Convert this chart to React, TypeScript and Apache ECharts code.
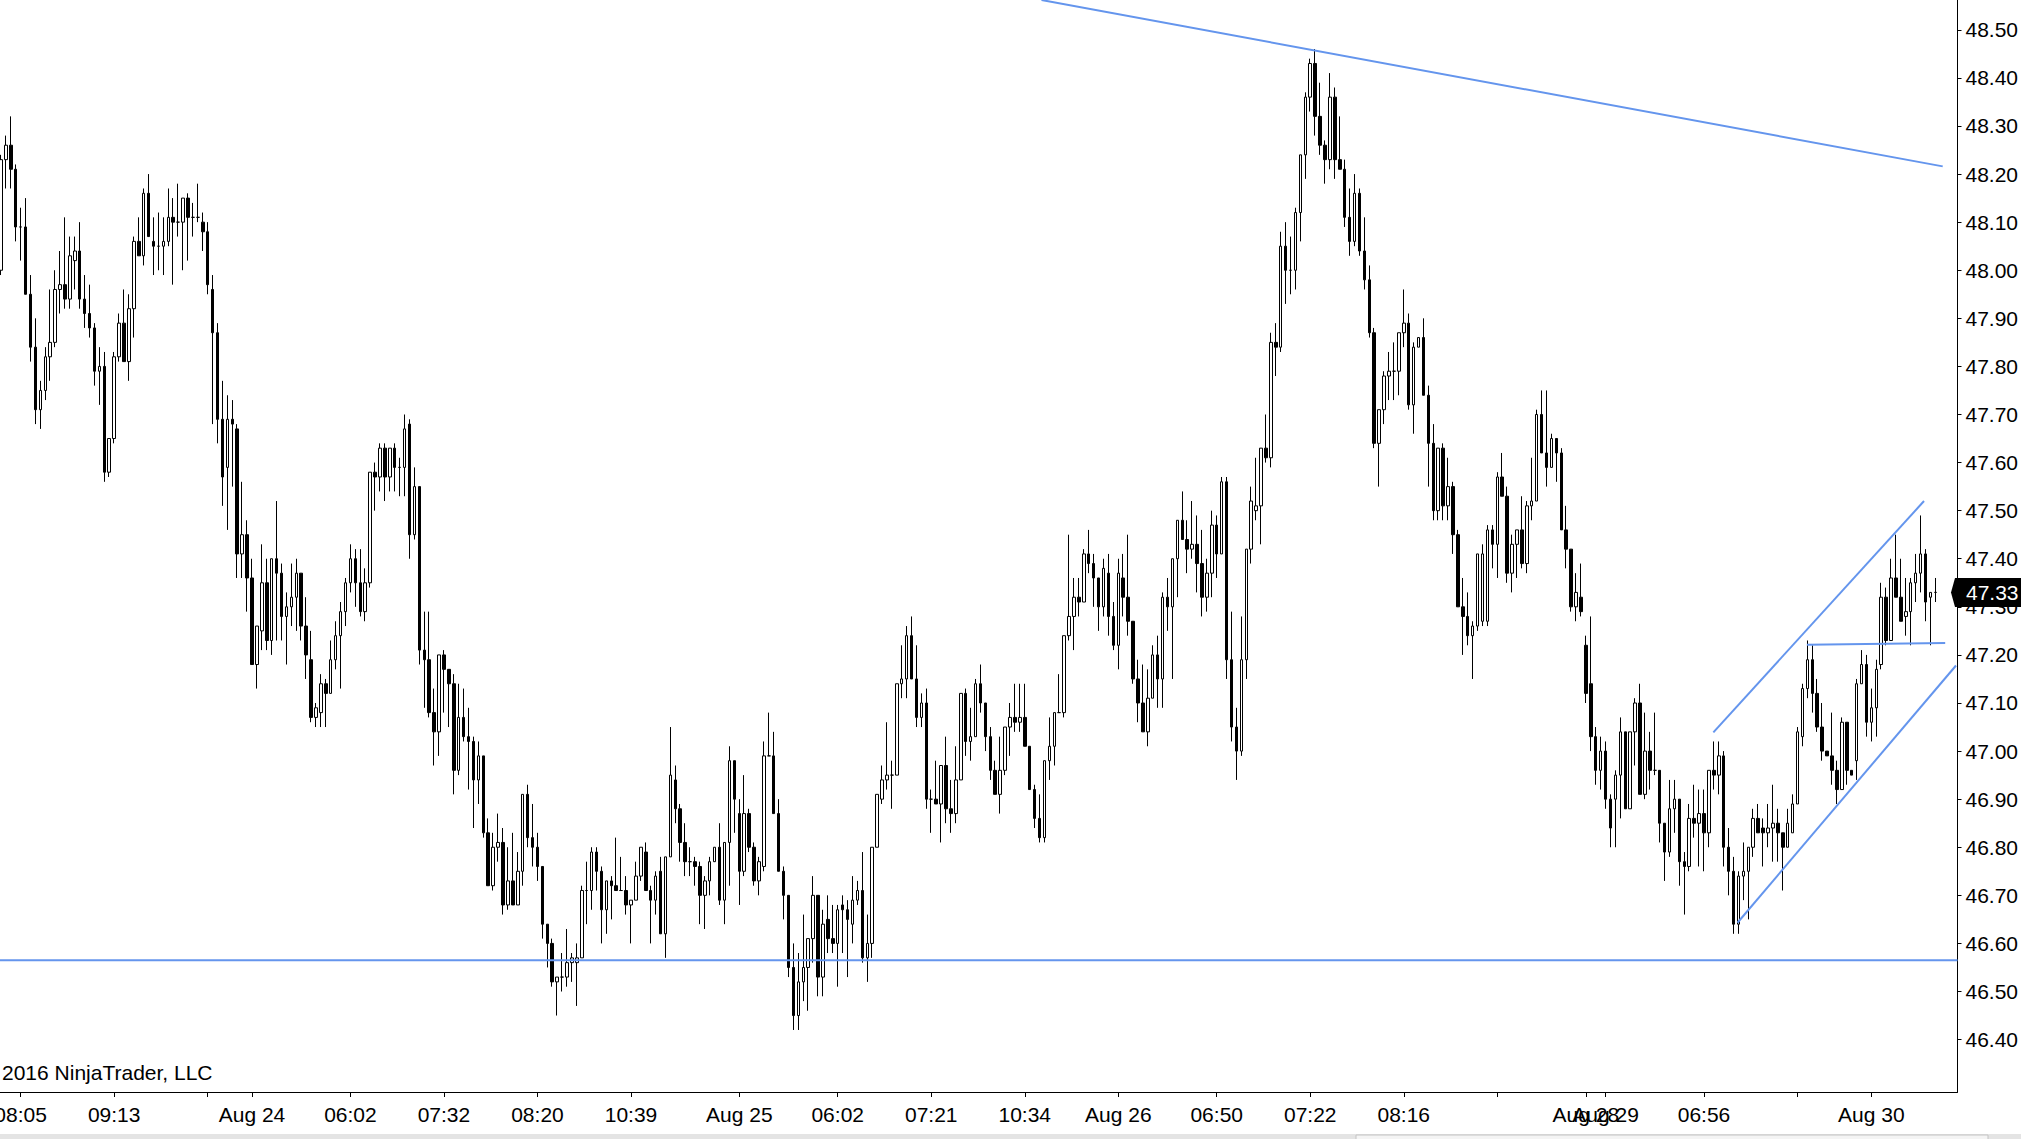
import React, { useEffect, useRef } from "react";
import * as echarts from "echarts";

// [open, high, low, close] per bar
const barsAug23 = [
  [48.00, 48.24, 47.99, 48.23], [48.23, 48.28, 48.17, 48.26], [48.26, 48.32, 48.17, 48.21], [48.21, 48.22, 48.06, 48.09],
  [48.09, 48.13, 48.02, 48.09], [48.09, 48.15, 47.95, 47.95], [47.95, 47.99, 47.81, 47.84], [47.84, 47.90, 47.68, 47.71],
  [47.71, 47.77, 47.67, 47.75], [47.75, 47.84, 47.73, 47.82], [47.82, 47.96, 47.77, 47.85], [47.85, 48.00, 47.84, 47.96],
  [47.96, 48.04, 47.91, 47.97], [47.97, 48.11, 47.92, 47.94], [47.94, 48.07, 47.92, 48.03], [48.02, 48.07, 47.96, 48.04],
  [48.04, 48.10, 47.92, 47.94], [47.94, 47.99, 47.88, 47.91], [47.91, 47.97, 47.86, 47.88], [47.88, 47.89, 47.76, 47.79],
  [47.79, 47.84, 47.72, 47.80], [47.80, 47.83, 47.56, 47.58], [47.58, 47.65, 47.57, 47.65], [47.65, 47.83, 47.64, 47.82],
  [47.82, 47.91, 47.81, 47.89], [47.89, 47.96, 47.81, 47.81], [47.81, 47.95, 47.77, 47.92], [47.92, 48.07, 47.86, 48.06],
  [48.06, 48.11, 48.03, 48.03], [48.03, 48.17, 48.01, 48.16], [48.16, 48.20, 48.07, 48.07], [48.06, 48.11, 47.99, 48.05],
  [48.05, 48.12, 48.00, 48.05], [48.05, 48.11, 47.99, 48.06], [48.06, 48.17, 48.05, 48.11], [48.11, 48.15, 47.97, 48.10],
  [48.10, 48.18, 48.07, 48.10], [48.10, 48.15, 48.00, 48.15], [48.15, 48.16, 48.02, 48.11], [48.11, 48.14, 48.07, 48.11],
  [48.11, 48.18, 48.10, 48.11], [48.10, 48.12, 48.04, 48.08], [48.08, 48.10, 47.95, 47.97], [47.96, 47.99, 47.68, 47.87],
  [47.87, 47.89, 47.64, 47.69], [47.69, 47.77, 47.51, 47.57], [47.59, 47.74, 47.46, 47.69], [47.69, 47.73, 47.55, 47.68],
  [47.67, 47.68, 47.36, 47.41], [47.41, 47.56, 47.36, 47.45], [47.45, 47.48, 47.29, 47.36], [47.36, 47.40, 47.18, 47.18],
  [47.18, 47.26, 47.13, 47.26], [47.25, 47.43, 47.21, 47.35], [47.35, 47.40, 47.21, 47.23], [47.23, 47.40, 47.20, 47.40],
  [47.40, 47.52, 47.23, 47.37], [47.37, 47.39, 47.23, 47.28], [47.28, 47.33, 47.18, 47.30], [47.30, 47.39, 47.26, 47.32],
  [47.32, 47.40, 47.25, 47.37], [47.37, 47.37, 47.23, 47.26], [47.26, 47.32, 47.15, 47.20], [47.19, 47.25, 47.06, 47.07],
  [47.07, 47.10, 47.05, 47.09], [47.08, 47.16, 47.05, 47.14], [47.14, 47.15, 47.05, 47.12], [47.12, 47.23, 47.12, 47.19],
  [47.19, 47.27, 47.17, 47.24],
];

const barsAug24 = [
  [47.24, 47.31, 47.13, 47.29], [47.29, 47.36, 47.26, 47.35], [47.35, 47.43, 47.33, 47.40], [47.40, 47.42, 47.30, 47.35],
  [47.35, 47.42, 47.28, 47.29], [47.29, 47.38, 47.27, 47.35], [47.35, 47.58, 47.34, 47.58], [47.58, 47.60, 47.50, 47.57],
  [47.57, 47.64, 47.54, 47.63], [47.63, 47.64, 47.52, 47.57], [47.57, 47.63, 47.54, 47.63], [47.63, 47.64, 47.54, 47.59],
  [47.59, 47.61, 47.53, 47.59], [47.59, 47.70, 47.53, 47.67], [47.68, 47.69, 47.40, 47.45], [47.45, 47.59, 47.44, 47.55],
  [47.55, 47.55, 47.18, 47.21], [47.21, 47.29, 47.09, 47.19], [47.19, 47.29, 47.07, 47.08], [47.08, 47.13, 46.97, 47.04],
  [47.04, 47.20, 46.99, 47.20], [47.20, 47.21, 47.08, 47.17], [47.17, 47.17, 47.05, 47.14], [47.14, 47.16, 46.91, 46.96],
  [46.96, 47.14, 46.95, 47.07], [47.07, 47.13, 47.02, 47.03], [47.03, 47.09, 46.92, 47.02], [47.02, 47.03, 46.84, 46.94],
  [46.94, 47.02, 46.89, 46.99], [46.99, 46.99, 46.82, 46.83], [46.83, 46.86, 46.72, 46.72], [46.72, 46.83, 46.71, 46.80],
  [46.80, 46.87, 46.77, 46.81], [46.81, 46.84, 46.66, 46.68], [46.68, 46.80, 46.67, 46.73], [46.73, 46.83, 46.68, 46.68],
  [46.68, 46.79, 46.68, 46.75], [46.75, 46.91, 46.72, 46.91], [46.91, 46.93, 46.80, 46.82], [46.82, 46.89, 46.76, 46.80],
  [46.80, 46.83, 46.73, 46.76], [46.76, 46.76, 46.61, 46.64], [46.64, 46.64, 46.55, 46.60], [46.60, 46.61, 46.51, 46.52],
  [46.52, 46.53, 46.45, 46.53], [46.53, 46.58, 46.50, 46.53], [46.53, 46.63, 46.51, 46.56], [46.56, 46.58, 46.52, 46.57],
  [46.56, 46.60, 46.47, 46.57], [46.57, 46.72, 46.57, 46.71], [46.71, 46.77, 46.64, 46.71], [46.71, 46.80, 46.67, 46.79],
  [46.79, 46.80, 46.71, 46.75], [46.75, 46.76, 46.60, 46.67], [46.67, 46.73, 46.62, 46.73], [46.73, 46.74, 46.65, 46.72],
  [46.72, 46.82, 46.71, 46.71], [46.71, 46.78, 46.71, 46.71], [46.71, 46.74, 46.66, 46.68], [46.68, 46.69, 46.60, 46.69],
  [46.69, 46.77, 46.69, 46.74], [46.74, 46.80, 46.73, 46.80], [46.79, 46.81, 46.71, 46.71], [46.71, 46.72, 46.60, 46.69],
  [46.69, 46.75, 46.66, 46.74],
];

const barsAug25 = [
  [46.75, 46.78, 46.62, 46.62], [46.62, 46.78, 46.57, 46.78], [46.78, 47.05, 46.78, 46.95], [46.94, 46.97, 46.85, 46.88],
  [46.88, 46.89, 46.77, 46.81], [46.81, 46.85, 46.74, 46.77], [46.77, 46.80, 46.74, 46.77], [46.77, 46.78, 46.72, 46.76],
  [46.76, 46.77, 46.64, 46.70], [46.70, 46.74, 46.63, 46.73], [46.73, 46.78, 46.70, 46.77], [46.77, 46.80, 46.77, 46.80],
  [46.80, 46.85, 46.68, 46.69], [46.69, 46.81, 46.64, 46.81], [46.81, 47.01, 46.72, 46.98], [46.98, 46.98, 46.83, 46.90],
  [46.87, 46.90, 46.68, 46.75], [46.75, 46.95, 46.74, 46.87], [46.87, 46.88, 46.79, 46.80], [46.80, 46.81, 46.72, 46.73],
  [46.73, 46.78, 46.70, 46.77], [46.76, 47.02, 46.75, 46.99], [46.99, 47.08, 46.99, 46.99], [46.99, 47.04, 46.87, 46.87],
  [46.87, 46.90, 46.75, 46.75], [46.75, 46.76, 46.65, 46.70], [46.70, 46.70, 46.53, 46.55], [46.55, 46.60, 46.42, 46.45],
  [46.45, 46.58, 46.42, 46.52], [46.52, 46.66, 46.48, 46.55], [46.55, 46.61, 46.46, 46.61], [46.61, 46.74, 46.56, 46.70],
  [46.70, 46.70, 46.49, 46.53], [46.53, 46.67, 46.49, 46.64], [46.65, 46.70, 46.58, 46.61], [46.61, 46.68, 46.58, 46.60],
  [46.60, 46.68, 46.51, 46.67], [46.68, 46.70, 46.58, 46.67], [46.67, 46.69, 46.53, 46.65], [46.64, 46.74, 46.60, 46.69],
  [46.69, 46.73, 46.68, 46.71], [46.71, 46.79, 46.56, 46.57], [46.57, 46.66, 46.52, 46.60], [46.60, 46.80, 46.57, 46.80],
  [46.80, 46.91, 46.80, 46.91], [46.90, 46.97, 46.89, 46.94], [46.94, 47.06, 46.92, 46.95], [46.95, 46.98, 46.88, 46.95],
  [46.95, 47.14, 46.95, 47.14], [47.14, 47.22, 47.11, 47.15], [47.15, 47.26, 47.11, 47.24], [47.24, 47.28, 47.15, 47.15],
  [47.15, 47.22, 47.05, 47.07], [47.07, 47.12, 47.05, 47.10], [47.10, 47.13, 46.88, 46.90], [46.90, 46.92, 46.83, 46.90],
  [46.90, 46.98, 46.89, 46.89], [46.89, 46.97, 46.81, 46.97], [46.97, 47.03, 46.85, 46.88], [46.88, 46.94, 46.83, 46.87],
  [46.87, 47.01, 46.85, 46.94], [46.94, 47.12, 46.94, 47.12], [47.12, 47.13, 46.99, 47.02], [47.02, 47.09, 46.98, 47.03],
  [47.03, 47.15, 47.03, 47.14],
];

const barsAug26 = [
  [47.14, 47.18, 47.08, 47.10], [47.10, 47.10, 47.00, 47.03], [47.03, 47.05, 46.94, 46.96], [46.96, 46.98, 46.91, 46.91],
  [46.91, 47.03, 46.87, 46.96], [46.96, 47.05, 46.95, 47.05], [47.05, 47.10, 46.99, 47.07], [47.07, 47.14, 47.04, 47.06],
  [47.06, 47.14, 47.04, 47.07], [47.07, 47.14, 47.01, 47.01], [47.01, 47.01, 46.92, 46.92], [46.92, 46.93, 46.84, 46.86],
  [46.86, 46.91, 46.81, 46.82], [46.82, 46.98, 46.81, 46.98], [46.98, 47.07, 46.94, 47.01], [47.01, 47.08, 46.97, 47.08],
  [47.08, 47.16, 47.08, 47.08], [47.08, 47.24, 47.07, 47.24], [47.24, 47.45, 47.23, 47.28], [47.28, 47.36, 47.21, 47.32],
  [47.32, 47.36, 47.28, 47.31], [47.31, 47.42, 47.31, 47.41], [47.41, 47.46, 47.37, 47.39], [47.39, 47.41, 47.30, 47.36],
  [47.36, 47.36, 47.25, 47.30], [47.30, 47.40, 47.28, 47.38], [47.37, 47.41, 47.24, 47.28], [47.28, 47.31, 47.21, 47.22],
  [47.22, 47.40, 47.17, 47.37], [47.36, 47.41, 47.28, 47.32], [47.32, 47.45, 47.24, 47.27], [47.27, 47.27, 47.14, 47.15],
  [47.15, 47.19, 47.06, 47.10], [47.10, 47.18, 47.04, 47.04], [47.04, 47.17, 47.01, 47.11], [47.11, 47.22, 47.11, 47.20],
  [47.20, 47.24, 47.09, 47.15], [47.15, 47.33, 47.09, 47.32], [47.32, 47.36, 47.25, 47.30], [47.30, 47.40, 47.15, 47.40],
  [47.40, 47.48, 47.32, 47.48], [47.48, 47.54, 47.44, 47.44], [47.44, 47.48, 47.37, 47.42], [47.42, 47.52, 47.40, 47.43],
  [47.43, 47.49, 47.33, 47.39], [47.39, 47.46, 47.28, 47.32], [47.32, 47.40, 47.29, 47.37], [47.37, 47.50, 47.32, 47.47],
  [47.47, 47.49, 47.36, 47.41], [47.41, 47.57, 47.41, 47.56], [47.56, 47.57, 47.15, 47.19], [47.19, 47.29, 47.02, 47.05],
  [47.05, 47.09, 46.94, 47.00], [47.00, 47.28, 46.99, 47.19], [47.19, 47.42, 47.15, 47.42], [47.42, 47.55, 47.39, 47.52],
  [47.50, 47.61, 47.48, 47.51], [47.51, 47.63, 47.43, 47.63], [47.63, 47.70, 47.60, 47.61], [47.61, 47.87, 47.59, 47.85],
  [47.85, 47.89, 47.78, 47.84], [47.84, 48.08, 47.83, 48.05], [48.05, 48.10, 47.93, 48.00], [48.00, 48.07, 47.95, 48.00],
];

const barsAug28 = [
  [48.00, 48.13, 47.96, 48.12], [48.12, 48.24, 48.06, 48.24], [48.24, 48.37, 48.19, 48.36], [48.36, 48.44, 48.33, 48.43],
  [48.43, 48.46, 48.28, 48.32], [48.32, 48.39, 48.24, 48.26], [48.26, 48.27, 48.18, 48.23], [48.23, 48.41, 48.21, 48.36],
  [48.36, 48.38, 48.19, 48.23], [48.23, 48.32, 48.21, 48.21], [48.21, 48.23, 48.09, 48.11], [48.11, 48.17, 48.03, 48.06],
  [48.06, 48.20, 48.05, 48.16], [48.16, 48.17, 48.03, 48.04], [48.04, 48.11, 47.96, 47.98], [47.98, 48.01, 47.86, 47.87],
  [47.87, 47.88, 47.63, 47.64], [47.64, 47.71, 47.55, 47.71], [47.71, 47.79, 47.68, 47.78], [47.78, 47.83, 47.73, 47.79],
  [47.79, 47.85, 47.73, 47.79], [47.79, 47.87, 47.74, 47.87], [47.87, 47.96, 47.84, 47.89], [47.89, 47.91, 47.71, 47.72],
  [47.72, 47.85, 47.66, 47.84], [47.84, 47.86, 47.84, 47.86], [47.86, 47.90, 47.74, 47.74], [47.74, 47.76, 47.55, 47.64],
  [47.64, 47.68, 47.48, 47.50], [47.50, 47.63, 47.48, 47.63], [47.63, 47.64, 47.48, 47.51], [47.51, 47.61, 47.48, 47.55],
  [47.55, 47.56, 47.41, 47.45], [47.45, 47.46, 47.30, 47.30], [47.30, 47.36, 47.20, 47.28], [47.28, 47.33, 47.22, 47.24],
  [47.24, 47.27, 47.15, 47.26], [47.26, 47.41, 47.25, 47.41], [47.27, 47.43, 47.26, 47.41], [47.27, 47.47, 47.26, 47.46],
  [47.46, 47.47, 47.38, 47.43], [47.43, 47.58, 47.36, 47.57], [47.57, 47.62, 47.53, 47.53], [47.53, 47.55, 47.35, 47.37],
  [47.37, 47.45, 47.33, 47.43], [47.43, 47.46, 47.36, 47.46], [47.46, 47.53, 47.38, 47.39], [47.39, 47.52, 47.37, 47.51],
  [47.51, 47.61, 47.48, 47.52], [47.52, 47.71, 47.52, 47.70], [47.70, 47.75, 47.62, 47.62], [47.62, 47.75, 47.55, 47.59],
  [47.59, 47.66, 47.59, 47.65], [47.65, 47.65, 47.56, 47.62], [47.62, 47.63, 47.46, 47.46], [47.46, 47.51, 47.38, 47.42],
  [47.42, 47.42, 47.29, 47.30], [47.30, 47.37, 47.27, 47.33], [47.32, 47.39, 47.28, 47.29], [47.22, 47.24, 47.10, 47.12],
  [47.14, 47.28, 47.00, 47.03], [47.03, 47.05, 46.93, 46.96], [46.96, 47.03, 46.92, 47.00], [47.00, 47.02, 46.88, 46.90],
];

const barsAug29 = [
  [46.90, 46.91, 46.80, 46.84], [46.90, 46.96, 46.80, 46.95], [46.95, 47.07, 46.86, 47.04], [47.04, 47.04, 46.88, 46.88],
  [46.88, 47.04, 46.88, 47.04], [47.04, 47.11, 46.97, 47.10], [47.10, 47.14, 46.91, 46.91], [46.91, 47.08, 46.90, 47.00],
  [47.00, 47.04, 46.92, 46.96], [46.96, 47.08, 46.95, 46.96], [46.96, 46.96, 46.81, 46.85], [46.85, 46.85, 46.73, 46.79],
  [46.79, 46.94, 46.78, 46.88], [46.88, 46.94, 46.83, 46.90], [46.90, 46.90, 46.72, 46.77], [46.77, 46.79, 46.66, 46.76],
  [46.76, 46.89, 46.75, 46.86], [46.86, 46.93, 46.82, 46.85], [46.85, 46.92, 46.76, 46.87], [46.87, 46.92, 46.75, 46.83],
  [46.83, 46.96, 46.80, 46.96], [46.96, 47.02, 46.92, 46.95], [46.95, 47.02, 46.91, 46.99], [46.99, 47.00, 46.76, 46.80],
  [46.80, 46.84, 46.70, 46.75], [46.75, 46.78, 46.62, 46.64], [46.64, 46.75, 46.62, 46.74], [46.74, 46.81, 46.69, 46.75],
  [46.75, 46.80, 46.65, 46.80], [46.80, 46.88, 46.78, 46.86], [46.86, 46.89, 46.83, 46.83], [46.84, 46.86, 46.76, 46.83],
  [46.83, 46.89, 46.80, 46.84], [46.84, 46.93, 46.77, 46.85], [46.85, 46.88, 46.77, 46.83], [46.83, 46.83, 46.71, 46.80],
  [46.80, 46.88, 46.80, 46.85], [46.83, 46.91, 46.83, 46.89], [46.89, 47.05, 46.89, 47.04], [47.03, 47.14, 47.01, 47.13],
  [47.13, 47.23, 47.11, 47.19], [47.19, 47.22, 47.08, 47.12], [47.12, 47.15, 47.04, 47.05], [47.05, 47.10, 46.98, 47.00],
  [47.00, 47.00, 46.99, 46.99], [46.99, 47.08, 46.93, 46.96], [46.96, 46.98, 46.89, 46.92], [46.92, 47.07, 46.92, 47.06],
  [47.06, 47.06, 46.93, 46.96], [46.96, 46.96, 46.95, 46.95], [46.98, 47.15, 46.94, 47.14], [47.14, 47.21, 47.14, 47.18],
  [47.18, 47.20, 47.03, 47.06], [47.06, 47.13, 47.02, 47.09], [47.09, 47.19, 47.03, 47.17], [47.18, 47.35, 47.17, 47.32],
  [47.32, 47.34, 47.22, 47.23], [47.23, 47.40, 47.23, 47.36], [47.36, 47.45, 47.32, 47.32], [47.32, 47.40, 47.27, 47.27],
  [47.28, 47.36, 47.24, 47.29], [47.29, 47.36, 47.22, 47.35], [47.35, 47.41, 47.31, 47.37], [47.37, 47.49, 47.33, 47.41],
  [47.41, 47.42, 47.27, 47.31], [47.32, 47.33, 47.22, 47.33], [47.33, 47.36, 47.31, 47.33],
];

const emptySlots = 4; // blank bar slots right of the last bar

// x-axis ticks: bar number (1-based) and its label ('' = tick without label)
const tickBars = [5, 24, 43, 52, 72, 91, 110, 129, 151, 171, 190, 209, 228, 248, 267, 286, 305, 323, 327, 347, 366, 381];
const tickTexts = ["08:05", "09:13", "", "Aug 24", "06:02", "07:32", "08:20", "10:39", "Aug 25", "06:02", "07:21",
  "10:34", "Aug 26", "06:50", "07:22", "08:16", "", "Aug 28", "Aug 29", "06:56", "", "Aug 30"];

// price axis
const priceTicks = [46.4, 46.5, 46.6, 46.7, 46.8, 46.9, 47.0, 47.1, 47.2, 47.3, 47.4, 47.5,
  47.6, 47.7, 47.8, 47.9, 48.0, 48.1, 48.2, 48.3, 48.4, 48.5];
const priceMin = 46.291;
const priceMax = 48.562;

// drawn lines: [bar position (0-based), price]
const supportLevel = 46.565;
const resistanceLine = [[211.4, 48.562], [394.5, 48.216]];
const channelUpper = [[347.9, 47.039], [390.7, 47.52]];
const channelLower = [[352.8, 46.643], [397.2, 47.178]];
const breakoutLine = [[366.9, 47.221], [395.0, 47.225]];

const copyrightText = "2016 NinjaTrader, LLC";

const FONT = '"Liberation Sans", Arial, Helvetica, sans-serif';
const FONT_SIZE = 21;
const BLUE = "#6495ED";

export default function App() {
  const ref = useRef<HTMLDivElement>(null);

  useEffect(() => {
    document.body.style.margin = "0";
    document.body.style.overflow = "hidden";
    const el = ref.current;
    if (!el) return;
    const chart = echarts.init(el, null, { renderer: "svg" });

    const bars = [...barsAug23, ...barsAug24, ...barsAug25, ...barsAug26, ...barsAug28, ...barsAug29];
    const slotCount = bars.length + emptySlots;
    const categories = Array.from({ length: slotCount }, (_, i) => String(i + 1));
    const labelMap = new Map<number, string>();
    tickBars.forEach((b, k) => labelMap.set(b - 1, tickTexts[k]));
    const candleData = bars.map(([o, h, l, c]) => [o, c, l, h]);
    const lastClose = bars[bars.length - 1][3];

    const lineSeries = (data: number[][]) => ({
      type: "line",
      xAxisIndex: 1,
      yAxisIndex: 0,
      data,
      symbol: "none",
      silent: true,
      lineStyle: { color: BLUE, width: 2 },
      z: 5,
    });

    chart.setOption({
      animation: false,
      backgroundColor: "#ffffff",
      grid: {
        left: -1.5,
        right: 63.5,
        top: 0,
        bottom: 47,
        containLabel: false,
        outerBoundsMode: "none",
      },
      xAxis: [
        {
          type: "category",
          data: categories,
          boundaryGap: true,
          axisLine: { show: true, onZero: false, lineStyle: { color: "#000", width: 1 } },
          axisTick: {
            show: true,
            alignWithLabel: true,
            length: 5,
            interval: (index: number) => labelMap.has(index),
            lineStyle: { color: "#000", width: 1 },
          },
          axisLabel: {
            show: true,
            interval: (index: number) => !!labelMap.get(index),
            formatter: (_v: string, index: number) => labelMap.get(index) || "",
            margin: 12,
            color: "#000",
            fontSize: FONT_SIZE,
            fontFamily: FONT,
            hideOverlap: false,
          },
          splitLine: { show: false },
        },
        {
          type: "value",
          min: -0.5,
          max: slotCount - 0.5,
          show: false,
          axisLine: { show: false, onZero: false },
          splitLine: { show: false },
        },
      ],
      yAxis: {
        type: "value",
        position: "right",
        min: priceMin,
        max: priceMax,
        axisLine: { show: true, onZero: false, lineStyle: { color: "#000", width: 1 } },
        axisTick: {
          show: true,
          inside: false,
          length: 4,
          customValues: priceTicks,
          lineStyle: { color: "#000", width: 1 },
        },
        axisLabel: {
          show: true,
          customValues: priceTicks,
          formatter: (v: number) => v.toFixed(2),
          margin: 8,
          color: "#000",
          fontSize: FONT_SIZE,
          fontFamily: FONT,
        },
        splitLine: { show: false },
      },
      series: [
        {
          type: "candlestick",
          xAxisIndex: 0,
          yAxisIndex: 0,
          data: candleData,
          barWidth: 3,
          large: false,
          itemStyle: {
            color: "#ffffff",
            color0: "#000000",
            borderColor: "#000000",
            borderColor0: "#000000",
            borderColorDoji: "#000000",
            borderWidth: 1,
          },
          z: 3,
        },
        lineSeries([[-0.5, supportLevel], [slotCount - 0.5, supportLevel]]),
        lineSeries(resistanceLine),
        lineSeries(channelUpper),
        lineSeries(channelLower),
        lineSeries(breakoutLine),
      ],
    });

    const py = chart.convertToPixel({ yAxisIndex: 0 }, lastClose) as number;
    const axisX = 2021 - 63.5;
    chart.setOption({
      graphic: {
        elements: [
          {
            id: "copyright",
            type: "text",
            z: 50,
            style: {
              text: copyrightText,
              x: 2,
              y: 1072,
              fill: "#000",
              font: `${FONT_SIZE}px ${FONT}`,
              verticalAlign: "middle",
              textVerticalAlign: "middle",
            },
          },
          {
            id: "strip",
            type: "rect",
            z: 50,
            shape: { x: 0, y: 1134, width: 2021, height: 10 },
            style: { fill: "#e4e4e4" },
          },
          {
            id: "stripbox",
            type: "rect",
            z: 51,
            shape: { x: 1356, y: 1135, width: 632, height: 10 },
            style: { fill: "#f4f4f4", stroke: "#c4c4c4", lineWidth: 1 },
          },
          {
            id: "priceTag",
            type: "polygon",
            z: 100,
            shape: {
              points: [
                [axisX - 6.5, py],
                [axisX - 2.5, py - 14.5],
                [2021, py - 14.5],
                [2021, py + 14.5],
                [axisX - 2.5, py + 14.5],
              ],
            },
            style: { fill: "#000" },
          },
          {
            id: "priceText",
            type: "text",
            z: 101,
            style: {
              text: lastClose.toFixed(2),
              x: axisX + 8.5,
              y: py,
              fill: "#fff",
              font: `${FONT_SIZE}px ${FONT}`,
              verticalAlign: "middle",
              textVerticalAlign: "middle",
            },
          },
        ],
      },
    });

    return () => {
      chart.dispose();
    };
  }, []);

  return <div ref={ref} style={{ width: "2021px", height: "1139px" }} />;
}
